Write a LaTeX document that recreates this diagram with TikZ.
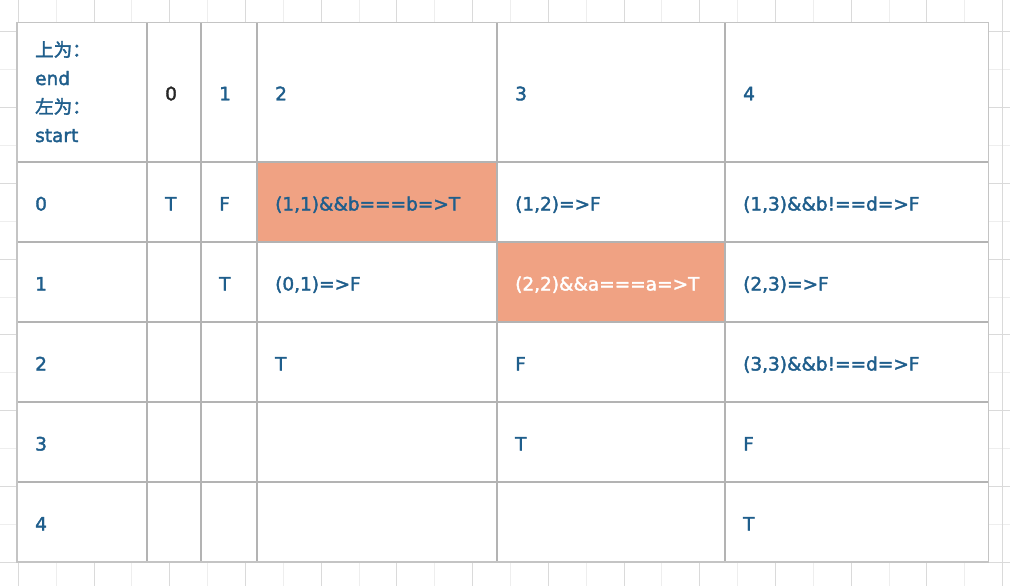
\documentclass[tikz,border=0pt]{standalone}
\usepackage{fontspec}
\setmainfont[FakeBold=2]{DejaVu Sans}
\newfontfamily\cjk[FakeBold=2]{Noto Sans CJK SC}
\definecolor{txt}{HTML}{1F5E8C}
\definecolor{hl}{HTML}{F0A283}
\definecolor{gridA}{HTML}{DADADA}
\definecolor{gridB}{HTML}{EEEEEE}
\definecolor{rulec}{HTML}{B3B3B3}
\definecolor{outerc}{HTML}{C4C4C4}
\begin{document}
\begin{tikzpicture}[x=1pt,y=-1pt,
  celltext/.style={inner sep=0pt, anchor=base west, font=\fontsize{18.5}{22}\selectfont, text=txt},
  gridminor/.style={gridB, line width=1pt},
  gridmajor/.style={gridA, line width=1pt},
  tablerule/.style={rulec, line width=1.6pt},
  hlcell/.style={fill=hl}]
\useasboundingbox (0,0) rectangle (1010,586);
\fill[white] (0,0) rectangle (1010,586);
% background grid
\foreach \k in {1,3,...,25} \draw[gridminor] ({18.3+37.86*\k},0) -- ++(0,586);
\foreach \k in {1,3,...,13} \draw[gridminor] (0,{32+37.86*\k}) -- ++(1010,0);
\foreach \k in {0,2,...,26} \draw[gridmajor] ({18.3+37.86*\k},0) -- ++(0,586);
\foreach \k in {0,2,...,14} \draw[gridmajor] (0,{32+37.86*\k}) -- ++(1010,0);
% table
\fill[white] (17,22.7) rectangle (988.5,562);
\fill[hlcell] (257,162) rectangle (497,242);
\fill[hlcell] (497,242) rectangle (725,322);
\foreach \xx in {147,201,257,497,725} \draw[tablerule] (\xx,22.7) -- (\xx,562);
\foreach \yy in {162,242,322,402,482} \draw[tablerule] (17,\yy) -- (988.5,\yy);
\draw[outerc, line width=1.6pt] (17,22.7) rectangle (988.5,562);
% header
\node[celltext] (h1) at (35,56.5) {\cjk 上为：};
\node[celltext] (h2) at (35,85) {end};
\node[celltext] (h3) at (35,113.5) {\cjk 左为：};
\node[celltext] (h4) at (35,142) {start};
\node[celltext, text=black!85] (c0) at (165,100.3) {0};
\node[celltext] (c1) at (219,100.3) {1};
\node[celltext] (c2) at (275,100.3) {2};
\node[celltext] (c3) at (515,100.3) {3};
\node[celltext] (c4) at (743,100.3) {4};
% row 0
\node[celltext] (r0) at (35,210.5) {0};
\node[celltext] (r0a) at (165,210.5) {T};
\node[celltext] (r0b) at (219,210.5) {F};
\node[celltext] (r0c) at (275,210.5) {(1,1)\&\&b===b=>T};
\node[celltext] (r0d) at (515,210.5) {(1,2)=>F};
\node[celltext] (r0e) at (743,210.5) {(1,3)\&\&b!==d=>F};
% row 1
\node[celltext] (r1) at (35,290.5) {1};
\node[celltext] (r1b) at (219,290.5) {T};
\node[celltext] (r1c) at (275,290.5) {(0,1)=>F};
\node[celltext, text=white] (r1d) at (515,290.5) {(2,2)\&\&a===a=>T};
\node[celltext] (r1e) at (743,290.5) {(2,3)=>F};
% row 2
\node[celltext] (r2) at (35,370.5) {2};
\node[celltext] (r2c) at (275,370.5) {T};
\node[celltext] (r2d) at (515,370.5) {F};
\node[celltext] (r2e) at (743,370.5) {(3,3)\&\&b!==d=>F};
% row 3
\node[celltext] (r3) at (35,450.5) {3};
\node[celltext] (r3d) at (515,450.5) {T};
\node[celltext] (r3e) at (743,450.5) {F};
% row 4
\node[celltext] (r4) at (35,530.5) {4};
\node[celltext] (r4e) at (743,530.5) {T};
\end{tikzpicture}
\end{document}
